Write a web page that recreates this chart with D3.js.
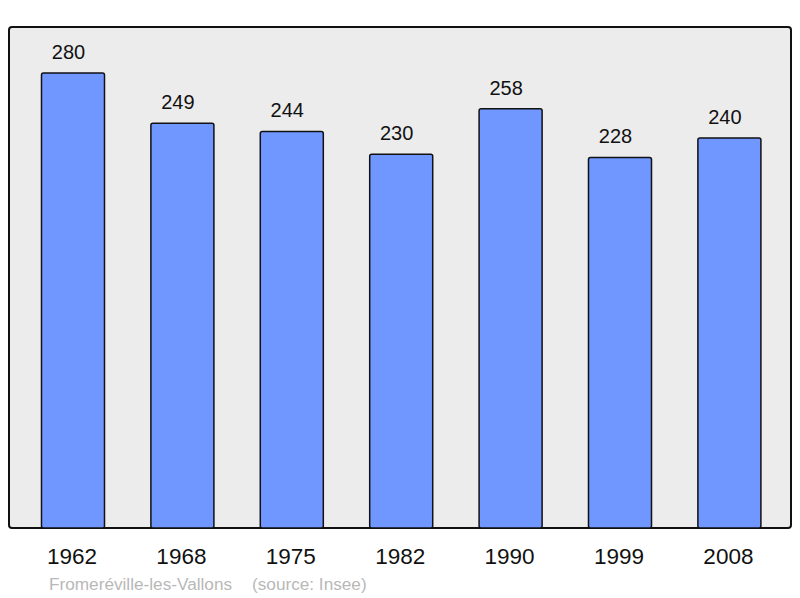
<!DOCTYPE html>
<html>
<head>
<meta charset="utf-8">
<script src="https://cdn.jsdelivr.net/npm/d3@7"></script>
<style>
  body { margin: 0; background: #fff; }
  text { font-family: "Liberation Sans", Arial, sans-serif; }
</style>
</head>
<body>
<svg id="chart"></svg>
<script>
const years = ["1962", "1968", "1975", "1982", "1990", "1999", "2008"];
const population = [280, 249, 244, 230, 258, 228, 240];
const commune = "Fromeréville-les-Vallons";
const source = "(source: Insee)";

const W = 800, H = 598;
const frame = { left: 9, top: 27, right: 791, bottom: 528 };

const svg = d3.select("#chart")
  .attr("width", W)
  .attr("height", H);

// plot frame
svg.append("rect")
  .attr("x", frame.left)
  .attr("y", frame.top)
  .attr("width", frame.right - frame.left)
  .attr("height", frame.bottom - frame.top)
  .attr("rx", 3)
  .attr("fill", "#ececec")
  .attr("stroke", "#111")
  .attr("stroke-width", 2);

const x = d3.scaleBand()
  .domain(years)
  .range([18.3, 784.1])
  .paddingInner(0.424)
  .paddingOuter(0.212);

const y = d3.scaleLinear()
  .domain([0, 308.3])
  .range([frame.bottom, frame.top]);

const data = years.map((yr, i) => ({ year: yr, value: population[i] }));

svg.selectAll("rect.bar")
  .data(data)
  .enter()
  .append("rect")
  .attr("class", "bar")
  .attr("x", d => x(d.year))
  .attr("y", d => y(d.value))
  .attr("width", x.bandwidth())
  .attr("height", d => y(0) - y(d.value))
  .attr("rx", 2)
  .attr("fill", "#7097ff")
  .attr("stroke", "#111")
  .attr("stroke-width", 1.5);

// value labels
svg.selectAll("text.val")
  .data(data)
  .enter()
  .append("text")
  .attr("class", "val")
  .attr("x", d => x(d.year) + x.bandwidth() / 2 - 4.5)
  .attr("y", d => y(d.value) - 14)
  .attr("text-anchor", "middle")
  .attr("font-size", 20)
  .attr("fill", "#111")
  .text(d => d.value);

// year labels
const xAxis = svg.append("g")
  .attr("transform", `translate(0,${frame.bottom})`)
  .call(d3.axisBottom(x).tickSize(0).tickPadding(20));
xAxis.select(".domain").remove();
xAxis.selectAll("text")
  .attr("dx", -1)
  .attr("font-size", 22.5)
  .attr("font-family", "Liberation Sans, Arial, sans-serif")
  .attr("fill", "#111");

// footer
svg.append("text")
  .attr("x", 49)
  .attr("y", 590)
  .attr("font-size", 17.2)
  .attr("fill", "#b8b8b8")
  .text(commune);

svg.append("text")
  .attr("x", 252)
  .attr("y", 590)
  .attr("font-size", 17.2)
  .attr("fill", "#b8b8b8")
  .text(source);
</script>
</body>
</html>
